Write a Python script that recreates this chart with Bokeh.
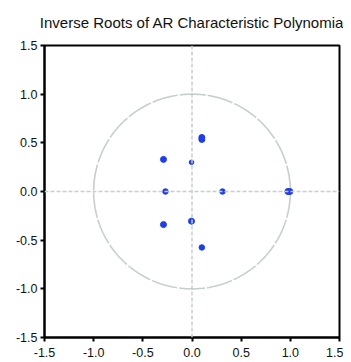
import numpy as np
from bokeh.plotting import figure
from bokeh.models import FixedTicker, Span, NumeralTickFormatter
from bokeh.embed import file_html
from bokeh.resources import INLINE

root_re = [0.10, 0.10, -0.29, -0.005, -0.27, 0.31, 0.975, 0.995, -0.29, -0.005, 0.10]
root_im = [0.535, 0.555, 0.33, 0.30, 0.0, 0.0, 0.0, 0.0, -0.34, -0.305, -0.575]
root_size = [6, 6, 6, 4.5, 5.5, 5.5, 6, 6, 6, 6, 5.5]
ticks = [-1.5, -1.0, -0.5, 0.0, 0.5, 1.0, 1.5]
title = "Inverse Roots of AR Characteristic Polynomia"

p = figure(frame_width=295, frame_height=292, x_range=(-1.5, 1.5), y_range=(-1.5, 1.5),
           output_backend="svg", toolbar_location=None,
           min_border_left=44, min_border_right=4, min_border_top=0, min_border_bottom=10)
p.title.text = title
p.title.align = "center"
p.title.vertical_align = "top"
p.title.text_font = "Liberation Sans"
p.title.text_font_size = "15px"
p.title.text_font_style = "normal"
p.title.text_color = "#111111"
p.title.standoff = 26
p.title.offset = 3

p.xgrid.visible = False
p.ygrid.visible = False
p.outline_line_color = "black"
p.outline_line_width = 2
p.background_fill_color = "white"
p.border_fill_color = "white"

for ax in (p.xaxis[0], p.yaxis[0]):
    ax.ticker = FixedTicker(ticks=ticks)
    ax.formatter = NumeralTickFormatter(format="0.0")
    ax.major_tick_out = 4
    ax.major_tick_in = 0
    ax.minor_tick_line_color = None
    ax.axis_line_width = 2
    ax.major_tick_line_width = 2
    ax.major_label_text_font = "Liberation Sans"
    ax.major_label_text_font_size = "12.5px"
    ax.major_label_text_color = "#111111"
    ax.major_label_standoff = 3
p.xaxis.major_label_standoff = 6

ref_col = "#c5d0cc"
p.add_layout(Span(location=0, dimension="width", line_color=ref_col, line_width=1.5, line_dash="4 2"))
p.add_layout(Span(location=0, dimension="height", line_color=ref_col, line_width=1.5, line_dash="4 2"))

th = np.linspace(0, 2 * np.pi, 400)
p.line(np.cos(th), np.sin(th), line_color=ref_col, line_width=1.6, line_dash="26 2")

p.scatter(root_re, root_im, size=root_size, fill_color="#1e3cf0", line_color="#1e3cf0")

open("out.html", "w").write(file_html(p, INLINE))
